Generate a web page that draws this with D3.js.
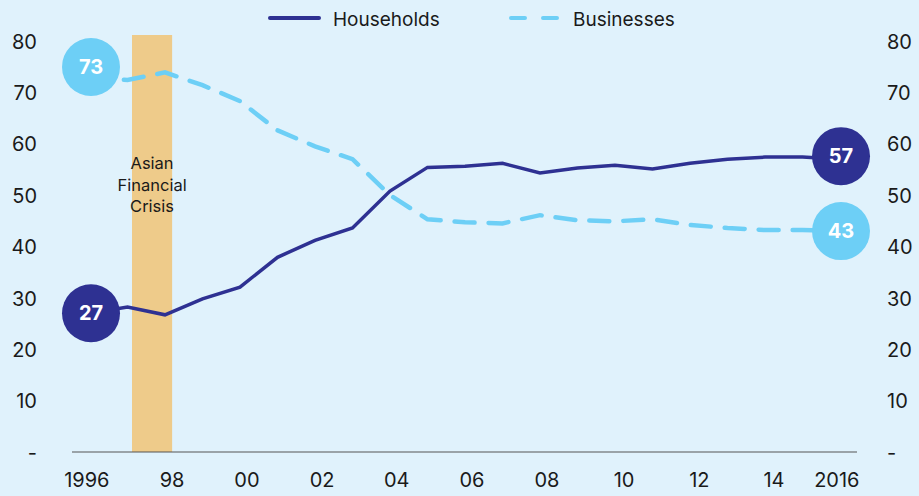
<!DOCTYPE html>
<html>
<head>
<meta charset="utf-8">
<script src="https://cdn.jsdelivr.net/npm/d3@7"></script>
<style>
  html, body { margin: 0; padding: 0; background: #e0f2fc; }
  svg { display: block; }
  text { font-family: "Inter", "Roboto", sans-serif; }
</style>
</head>
<body>
<svg id="chart" width="919" height="496"></svg>
<script>
// Share of total (%), households vs businesses, 1996-2016
const years = d3.range(1996, 2017);
const households = [27, 28.2, 26.7, 29.8, 32.1, 37.9, 41.2, 43.6, 50.8, 55.4, 55.6, 56.2, 54.3, 55.3, 55.8, 55.1, 56.2, 57.0, 57.4, 57.4, 57];
const businesses = [73, 72.4, 73.9, 71.4, 68.3, 62.6, 59.5, 57.0, 50.0, 45.3, 44.7, 44.5, 46.1, 45.1, 44.9, 45.3, 44.2, 43.6, 43.2, 43.2, 43];
const xTicks = [1996, 1998, 2000, 2002, 2004, 2006, 2008, 2010, 2012, 2014, 2016];
const xTickLabels = ["1996", "98", "00", "02", "04", "06", "08", "10", "12", "14", "2016"];
const yTicks = [0, 10, 20, 30, 40, 50, 60, 70, 80];
const crisis = { start: 1997.12, end: 1998.19, label: ["Asian", "Financial", "Crisis"] };
const seriesNames = ["Households", "Businesses"];

const navy = "#2e3192";
const sky = "#6dcff6";
const ink = "#1a1a1a";

const svg = d3.select("#chart");

const x = d3.scaleLinear().domain([1996, 2016]).range([90, 840]);
const y = d3.scaleLinear().domain([0, 80]).range([452, 41]);

// Crisis band
svg.append("rect")
  .attr("x", x(crisis.start))
  .attr("width", x(crisis.end) - x(crisis.start))
  .attr("y", 35)
  .attr("height", y(0) - 35)
  .attr("fill", "#eecb8a");

const cx = (x(crisis.start) + x(crisis.end)) / 2;
svg.append("text")
  .attr("x", cx)
  .attr("y", 169)
  .attr("text-anchor", "middle")
  .attr("font-size", 16.5)
  .attr("fill", ink)
  .selectAll("tspan")
  .data(crisis.label)
  .join("tspan")
  .attr("x", cx)
  .attr("dy", (d, i) => i === 0 ? 0 : 21.5)
  .text(d => d);

// Baseline
svg.append("line")
  .attr("x1", x(1996) - 18).attr("x2", x(2016) + 17)
  .attr("y1", y(0)).attr("y2", y(0))
  .attr("stroke", "#555").attr("stroke-width", 1.2);

// Left and right value axes (labels only)
const yLabel = v => v === 0 ? "-" : String(v);
const leftAxis = d3.axisLeft(y).tickValues(yTicks).tickFormat(yLabel).tickSize(0).tickPadding(0);
const rightAxis = d3.axisRight(y).tickValues(yTicks).tickFormat(yLabel).tickSize(0).tickPadding(0);

const gl = svg.append("g").attr("transform", "translate(37,0)").call(leftAxis);
const gr = svg.append("g").attr("transform", "translate(887,0)").call(rightAxis);
[gl, gr].forEach(g => {
  g.select(".domain").remove();
  g.selectAll("text")
    .attr("font-family", "Inter, Roboto, sans-serif")
    .attr("font-size", 20)
    .attr("fill", ink)
    .attr("dy", "0.36em");
});

// Year axis
const bottomAxis = d3.axisBottom(x).tickValues(xTicks)
  .tickFormat((d, i) => xTickLabels[i]).tickSize(0).tickPadding(0);
const gb = svg.append("g").attr("transform", `translate(0,${y(0)})`).call(bottomAxis);
gb.select(".domain").remove();
gb.selectAll("text")
  .attr("font-family", "Inter, Roboto, sans-serif")
  .attr("font-size", 20)
  .attr("fill", ink)
  .attr("text-anchor", "end")
  .attr("dx", 19)
  .attr("dy", 35);

// Lines
const line = d3.line().x((d, i) => x(years[i])).y(d => y(d));

svg.append("path")
  .datum(businesses)
  .attr("d", line)
  .attr("fill", "none")
  .attr("stroke", sky)
  .attr("stroke-width", 4.5)
  .attr("stroke-linecap", "round")
  .attr("stroke-dasharray", "20 14");

svg.append("path")
  .datum(households)
  .attr("d", line)
  .attr("fill", "none")
  .attr("stroke", navy)
  .attr("stroke-width", 3.5)
  .attr("stroke-linejoin", "miter");

// End-point value badges
const last = years.length - 1;
const badges = [
  { i: 0, v: businesses[0], color: sky, dy: -10 },
  { i: 0, v: households[0], color: navy, dy: 0 },
  { i: last, v: households[last], color: navy, dy: -3 },
  { i: last, v: businesses[last], color: sky, dy: 0 }
];
const bg = svg.append("g").selectAll("g").data(badges).join("g")
  .attr("transform", d => `translate(${x(years[d.i]) + 1},${y(d.v) + d.dy})`);
bg.append("circle").attr("r", 29).attr("fill", d => d.color);
bg.append("text")
  .attr("text-anchor", "middle")
  .attr("dy", "0.36em")
  .attr("font-size", 20)
  .attr("font-weight", 700)
  .attr("fill", "#ffffff")
  .text(d => d3.format(".0f")(d.v));

// Legend
const legend = svg.append("g");
const lg1 = legend.append("g");
lg1.append("line").attr("x1", 270).attr("x2", 319).attr("y1", 18).attr("y2", 18)
  .attr("stroke", navy).attr("stroke-width", 4).attr("stroke-linecap", "round");
lg1.append("text").attr("x", 333).attr("y", 19).attr("dy", "0.36em")
  .attr("font-size", 19).attr("fill", ink).text(seriesNames[0]);
const lg2 = legend.append("g");
lg2.append("line").attr("x1", 511).attr("x2", 558).attr("y1", 18).attr("y2", 18)
  .attr("stroke", sky).attr("stroke-width", 4).attr("stroke-linecap", "round")
  .attr("stroke-dasharray", "14 18");
lg2.append("text").attr("x", 573).attr("y", 19).attr("dy", "0.36em")
  .attr("font-size", 19).attr("fill", ink).text(seriesNames[1]);
</script>
</body>
</html>
